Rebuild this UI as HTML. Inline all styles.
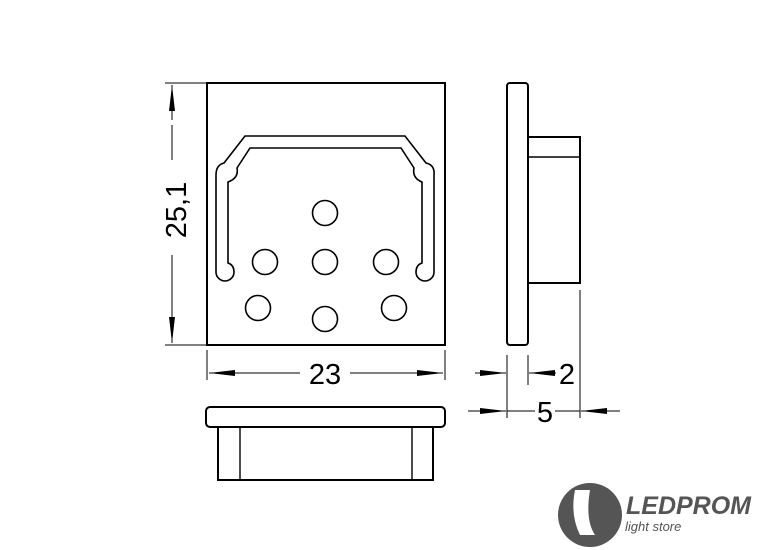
<!DOCTYPE html>
<html><head><style>body{margin:0;background:#fff}svg{display:block}</style></head><body>
<svg width="768" height="550" viewBox="0 0 768 550" xmlns="http://www.w3.org/2000/svg" font-family="Liberation Sans, sans-serif">
<defs><marker id="a" viewBox="0 0 10 6" refX="10" refY="3" markerWidth="10" markerHeight="6" orient="auto" markerUnits="userSpaceOnUse"><path d="M0,0L10,3L0,6z" fill="#000"/></marker>
<marker id="b" viewBox="0 0 26 8" refX="26" refY="4" markerWidth="26" markerHeight="8" orient="auto" markerUnits="userSpaceOnUse"><path d="M0,1L26,4L0,7z" fill="#000"/></marker></defs>
<g fill="none" stroke="#000" stroke-width="2">
<rect x="207" y="83" width="238" height="262"/>
<path d="M224,163 L245,136 L405,136 L426,163 Q435,165 434,175 L434,272 A9,9 0 1 1 416,272 Q416,265 422,263 L422,182 Q412,178 414,168 L401,148 L250,148 L237,168 Q239,178 228,182 L228,263 Q234,265 234,272 A9,9 0 1 1 216,272 L216,175 Q216,165 224,163Z" stroke-width="1.6"/>
<g stroke-width="1.6">
<circle cx="325" cy="213" r="12.5"/><circle cx="265" cy="262" r="12.5"/><circle cx="325" cy="262" r="12.5"/><circle cx="386" cy="262" r="12.5"/>
<circle cx="258" cy="308" r="12.5"/><circle cx="325" cy="319" r="12.5"/><circle cx="394" cy="308" r="12.5"/></g>
<rect x="507" y="83" width="21" height="262" rx="3"/>
<rect x="528" y="137" width="52" height="146"/>
<line x1="528" y1="157" x2="580" y2="157" stroke-width="1.4"/>
<rect x="206" y="407" width="239" height="20" rx="4"/>
<path d="M218,427 L218,480 L433,480 L433,427"/>
<line x1="240" y1="427" x2="240" y2="480" stroke-width="1.4"/>
<line x1="412" y1="427" x2="412" y2="480" stroke-width="1.4"/>
</g>
<g stroke="#000" stroke-width="1" fill="none">
<line x1="165" y1="83" x2="207" y2="83"/><line x1="165" y1="345" x2="207" y2="345"/>
<line x1="172" y1="120" x2="172" y2="85" marker-end="url(#b)"/><line x1="172" y1="300" x2="172" y2="343" marker-end="url(#b)"/>
<line x1="172" y1="125" x2="172" y2="160"/><line x1="172" y1="255" x2="172" y2="300"/>
<line x1="207" y1="350" x2="207" y2="380"/><line x1="445" y1="350" x2="445" y2="380"/>
<line x1="300" y1="373" x2="209" y2="373" marker-end="url(#b)"/><line x1="350" y1="373" x2="443" y2="373" marker-end="url(#b)"/>
<line x1="507" y1="355" x2="507" y2="418"/><line x1="528" y1="355" x2="528" y2="385"/><line x1="580" y1="290" x2="580" y2="418"/>
<line x1="475" y1="373" x2="506" y2="373" marker-end="url(#b)"/><line x1="556" y1="373" x2="529" y2="373" marker-end="url(#b)"/>
<line x1="468" y1="411" x2="506" y2="411" marker-end="url(#b)"/><line x1="620" y1="411" x2="581" y2="411" marker-end="url(#b)"/>
<line x1="507" y1="411" x2="535" y2="411"/><line x1="555" y1="411" x2="580" y2="411"/>
</g>
<g font-size="29" fill="#000" text-anchor="middle">
<text x="325" y="384">23</text>
<text x="567" y="384">2</text>
<text x="545" y="422">5</text>
<text transform="translate(186,210) rotate(-90)">25,1</text>
</g>
<g fill="#555">
<circle cx="590" cy="515" r="32"/>
<path d="M575,490 Q570,515 580,535 L595,535 Q585,520 590,490Z" fill="#fff"/>
<text x="626" y="514" font-size="25" font-style="italic" font-weight="bold" fill="#555">LEDPROM</text>
<text x="625" y="531" font-size="13" font-style="italic" fill="#555">light store</text>
</g>
</svg>
</body></html>
